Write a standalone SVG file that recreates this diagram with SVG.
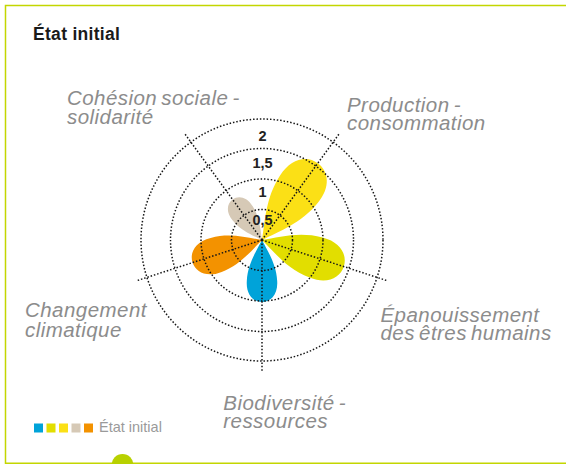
<svg xmlns="http://www.w3.org/2000/svg" xmlns:xlink="http://www.w3.org/1999/xlink" width="566" height="464" viewBox="0 0 566 464">
  <style>
    .lbl { font-family: "Liberation Sans", Arial, sans-serif; font-style: italic; font-size: 20.5px; fill: #8c8c8c; letter-spacing: 0.45px; word-spacing: -2px; }
    .num { font-family: "Liberation Sans", Arial, sans-serif; font-weight: bold; font-size: 14.5px; fill: #222; text-anchor: middle; }
    .grid { fill: none; stroke: #161616; stroke-width: 1.5; stroke-dasharray: 1.5 1.9; }
  </style>
  <defs>
    <path id="petal" d="M0,0 C18,-9 38,-23 66,-24.5 C88,-26 100,-14 100,0 C100,14 88,26 66,24.5 C38,23 18,9 0,0 Z"/>
  </defs>
  <rect width="566" height="464" fill="#ffffff"/>
  <g id="frame">
    <path d="M566,5.5 H5.5 V463.3 H566" fill="none" stroke="#c3d600" stroke-width="1.5"/>
    <circle cx="122.5" cy="465" r="11" fill="#b8d100"/>
  </g>
  <text x="33" y="40" font-family="'Liberation Sans', Arial, sans-serif" font-weight="bold" font-size="17.5" letter-spacing="0.3" fill="#1a1a1a">État initial</text>

  <g id="petals">
    <g id="petal-production"><use xlink:href="#petal" fill="#fbe016" transform="translate(262,240) rotate(-54) scale(0.95)"/></g>
    <g id="petal-epanouissement"><use xlink:href="#petal" fill="#e2de00" transform="translate(262,240) rotate(18) scale(0.86)"/></g>
    <g id="petal-biodiversite"><use xlink:href="#petal" fill="#00a3d9" transform="translate(262,240) rotate(90) scale(0.62)"/></g>
    <g id="petal-changement"><use xlink:href="#petal" fill="#f39200" transform="translate(262,240) rotate(162) scale(0.73)"/></g>
    <g id="petal-cohesion"><use xlink:href="#petal" fill="#d6c9b6" transform="translate(262,240) rotate(234) scale(0.5)"/></g>
  </g>

  <g id="connectors" class="grid">
    <circle cx="262" cy="240" r="30.5"/>
    <circle cx="262" cy="240" r="61"/>
    <circle cx="262" cy="240" r="91.5"/>
    <circle cx="262" cy="240" r="121"/>
    <line x1="262" y1="240" x2="339.6" y2="133.2"/>
    <line x1="262" y1="240" x2="387.5" y2="280.8"/>
    <line x1="262" y1="240" x2="262" y2="372"/>
    <line x1="262" y1="240" x2="136.5" y2="280.8"/>
    <line x1="262" y1="240" x2="184.4" y2="133.2"/>
  </g>

  <g id="scale">
    <text class="num" x="262.5" y="141">2</text>
    <text class="num" x="262.5" y="168.3">1,5</text>
    <text class="num" x="262.5" y="197.3">1</text>
    <text class="num" x="262.5" y="225">0,5</text>
  </g>

  <g id="label-cohesion"><text class="lbl" x="67" y="104.5">Cohésion sociale -</text><text class="lbl" x="67" y="123.5">solidarité</text></g>
  <g id="label-production"><text class="lbl" x="347" y="112">Production -</text><text class="lbl" x="347" y="130">consommation</text></g>
  <g id="label-epanouissement"><text class="lbl" x="380.5" y="321.7">Épanouissement</text><text class="lbl" x="380.5" y="340">des êtres humains</text></g>
  <g id="label-changement"><text class="lbl" x="25" y="317.3">Changement</text><text class="lbl" x="25" y="336.7">climatique</text></g>
  <g id="label-biodiversite"><text class="lbl" x="223.3" y="410">Biodiversité -</text><text class="lbl" x="223.3" y="428.3">ressources</text></g>

  <g id="legend">
    <rect x="34" y="423.5" width="9" height="9" fill="#00a3d9"/>
    <rect x="46.5" y="423.5" width="9" height="9" fill="#e2de00"/>
    <rect x="59" y="423.5" width="9" height="9" fill="#fbe016"/>
    <rect x="71.5" y="423.5" width="9" height="9" fill="#d6c9b6"/>
    <rect x="84" y="423.5" width="9" height="9" fill="#f39200"/>
    <text x="99" y="432.3" font-family="'Liberation Sans', Arial, sans-serif" font-size="14.5" fill="#9a9a9a">État initial</text>
  </g>
</svg>
